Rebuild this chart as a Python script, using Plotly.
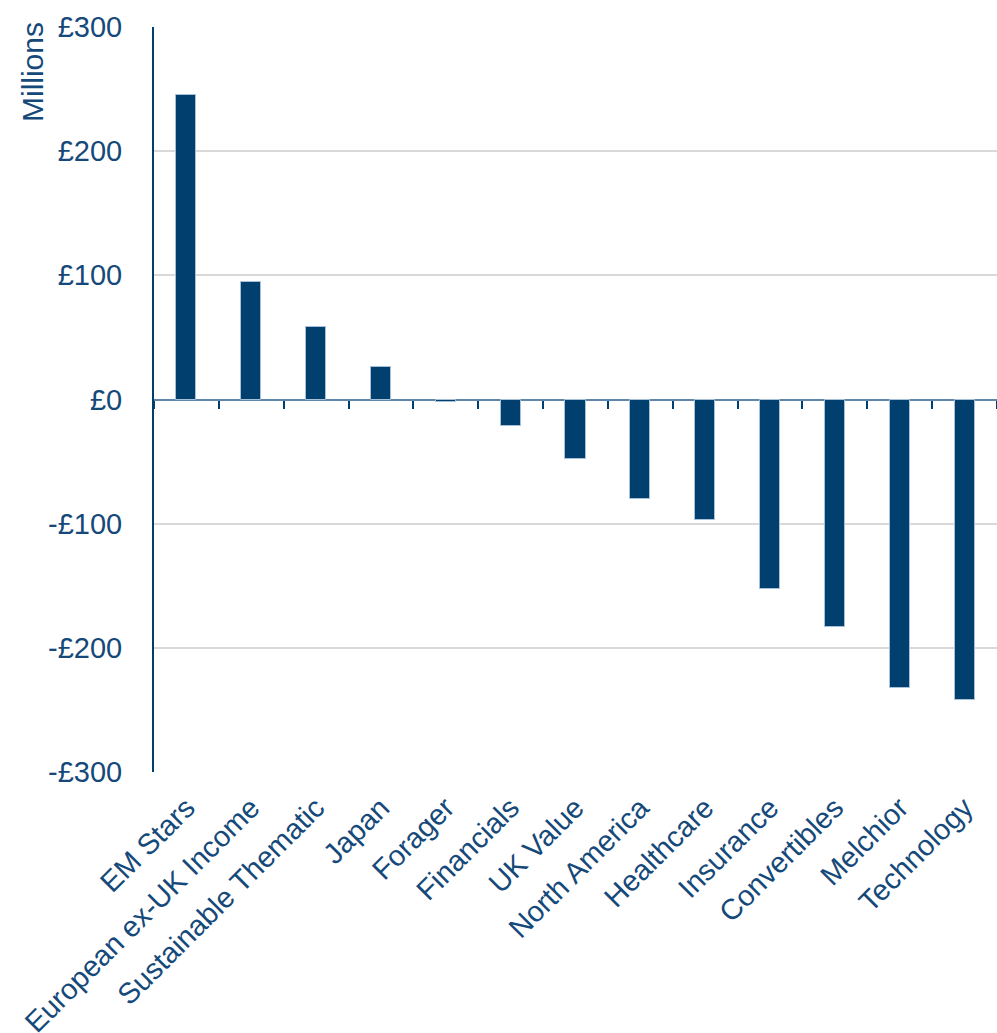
import plotly.graph_objects as go

categories = ["EM Stars", "European ex-UK Income", "Sustainable Thematic", "Japan",
              "Forager", "Financials", "UK Value", "North America", "Healthcare",
              "Insurance", "Convertibles", "Melchior", "Technology"]
values = [245, 95, 58, 26, -2, -21, -48, -80, -97, -153, -183, -232, -242]
y_ticks = [-300, -200, -100, 0, 100, 200, 300]
y_tick_labels = ["-£300", "-£200", "-£100", "£0", "£100", "£200", "£300"]

text_color = "#15497A"
bar_color = "#003F6E"
font_family = "Liberation Sans, Arial, sans-serif"
fs = 29

fig = go.Figure()
fig.add_trace(go.Bar(
    x=categories, y=values, width=0.31,
    marker=dict(color=bar_color, line=dict(color="#A9C1D8", width=1)),
    xaxis="x", yaxis="y", showlegend=False, hoverinfo="x+y",
))
# invisible trace for the zero-line tick axis
fig.add_trace(go.Scatter(x=categories, y=[None] * len(categories),
                         xaxis="x2", yaxis="y", showlegend=False,
                         mode="markers", hoverinfo="skip"))

xr = [-0.5, len(categories) - 0.5]
fig.update_layout(
    width=997, height=1033, autosize=False,
    margin=dict(l=154, r=0, t=27, b=261),
    paper_bgcolor="white", plot_bgcolor="white",
    font=dict(family=font_family, color=text_color, size=fs),
    bargap=0,
    xaxis=dict(
        type="category", categoryorder="array", categoryarray=categories,
        range=xr, automargin=False,
        tickangle=-45, showgrid=False, showline=False, zeroline=False,
        ticks="", ticklabelstandoff=12,
        tickfont=dict(size=fs, color=text_color, family=font_family),
    ),
    xaxis2=dict(
        type="category", categoryorder="array", categoryarray=categories,
        range=xr, automargin=False,
        overlaying="x", anchor="free", position=0.5,
        side="bottom", showticklabels=False, showgrid=False, showline=False,
        zeroline=False, ticks="outside", tickson="boundaries", ticklen=8,
        tickwidth=2, tickcolor=bar_color,
    ),
    yaxis=dict(
        range=[-300, 300], tickvals=y_ticks, ticktext=y_tick_labels,
        automargin=False,
        showgrid=True, gridcolor="#D9D9D9", gridwidth=2,
        showline=True, linecolor=bar_color, linewidth=2,
        zeroline=True, zerolinecolor="#5E87AB", zerolinewidth=2,
        ticks="", ticklabelstandoff=24,
        tickfont=dict(size=fs, color=text_color, family=font_family),
    ),
    annotations=[dict(
        text="Millions", textangle=-90, xref="paper", yref="paper",
        x=-0.1435, y=1.0094, xanchor="center", yanchor="top", showarrow=False,
        font=dict(size=30, color=text_color, family=font_family),
    )],
)

post = ("document.body.style.margin='0';document.body.style.overflow='hidden';"
        "var gd=document.getElementById('{plot_id}');"
        "Plotly.relayout(gd,{width:997,height:1033});")
fig.write_html("out.html", default_width="997px", default_height="1033px",
               config={"responsive": False, "displayModeBar": False},
               post_script=post)
